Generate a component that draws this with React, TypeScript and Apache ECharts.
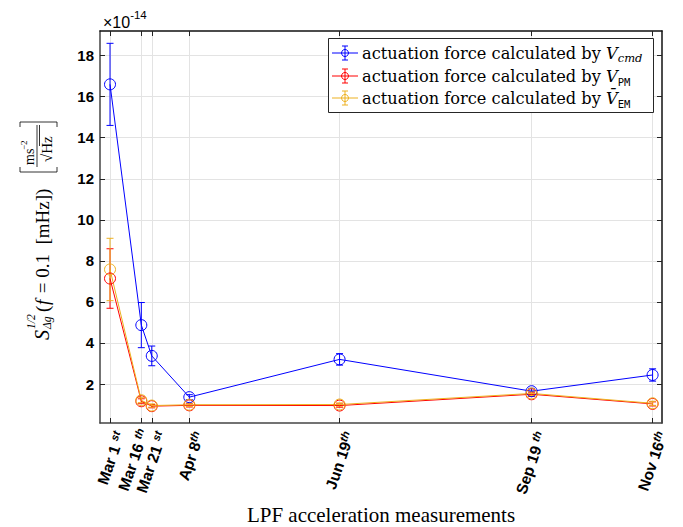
import React, { useEffect, useRef } from "react";
import * as echarts from "echarts";

const dates = ["2016-03-01", "2016-03-16", "2016-03-21", "2016-04-08", "2016-06-19", "2016-09-19", "2016-11-16"];
const tickMain = ["Mar 1 ", "Mar 16 ", "Mar 21 ", "Apr 8", "Jun 19", "Sep 19 ", "Nov 16"];
const tickSup = ["st", "th", "st", "th", "th", "th", "th"];

const cmdValues = [16.6, 4.87, 3.37, 1.36, 3.2, 1.65, 2.44];
const cmdErr = [2.0, 1.1, 0.48, 0.12, 0.28, 0.14, 0.3];
const pmValues = [7.14, 1.16, 0.92, 0.96, 0.95, 1.5, 1.03];
const pmErr = [1.45, 0.12, 0.08, 0.08, 0.08, 0.1, 0.1];
const emValues = [7.58, 1.21, 0.95, 0.99, 1.0, 1.54, 1.06];
const emErr = [1.52, 0.12, 0.08, 0.08, 0.08, 0.1, 0.1];

const yTicks = [2, 4, 6, 8, 10, 12, 14, 16, 18];

const BLUE = "#0000ff";
const RED = "#ff0000";
const ORANGE = "#EDB120";

const DAY = 86400000;
const t0 = Date.UTC(2016, 2, 1);
const days = dates.map((d) => (Date.parse(d + "T00:00:00Z") - t0) / DAY);

// per-label perpendicular nudge (px) of rotated tick labels (style only)
const labelNudge = [10, 2, 10, 10, 10, 10, 10];

function lineSeries(name: string, vals: number[], color: string) {
  return {
    name,
    type: "line",
    data: days.map((d, i) => [d, vals[i]]),
    symbol: "circle",
    symbolSize: 11,
    lineStyle: { color, width: 1 },
    itemStyle: { color: "rgba(0,0,0,0)", borderColor: color, borderWidth: 1 },
    emphasis: { disabled: true },
  };
}

function errSeries(vals: number[], err: number[], color: string) {
  return {
    type: "custom",
    data: days.map((d, i) => [d, vals[i] - err[i], vals[i] + err[i]]),
    encode: { x: 0, y: [1, 2] },
    renderItem: (params: any, api: any) => {
      const x = api.value(0);
      const lo = api.coord([x, api.value(1)]);
      const hi = api.coord([x, api.value(2)]);
      const c = 3.5;
      const style = { stroke: color, lineWidth: 1 };
      return {
        type: "group",
        children: [
          { type: "line", shape: { x1: lo[0], y1: lo[1], x2: hi[0], y2: hi[1] }, style },
          { type: "line", shape: { x1: lo[0] - c, y1: lo[1], x2: lo[0] + c, y2: lo[1] }, style },
          { type: "line", shape: { x1: hi[0] - c, y1: hi[1], x2: hi[0] + c, y2: hi[1] }, style },
        ],
      };
    },
    z: 3,
  };
}

const LF = "DejaVu Serif";
const legendRich: any = {
  t: { fontSize: 16.2, fontFamily: LF, lineHeight: 22, verticalAlign: "middle" },
  v: { fontSize: 16.2, fontFamily: LF, fontStyle: "italic", lineHeight: 22, verticalAlign: "middle" },
  si: { fontSize: 11.5, fontFamily: LF, fontStyle: "italic", lineHeight: 13, verticalAlign: "bottom" },
  sm: { fontSize: 10.5, fontFamily: "DejaVu Sans Mono", lineHeight: 11, verticalAlign: "bottom" },
};

function legendEntry(y: number, color: string, rich: string) {
  const s = { stroke: color, lineWidth: 1 };
  return [
    { type: "line", shape: { x1: 332, y1: y, x2: 358, y2: y }, style: s, z: 11 },
    { type: "line", shape: { x1: 345, y1: y - 7, x2: 345, y2: y + 7 }, style: s, z: 11 },
    { type: "line", shape: { x1: 342, y1: y - 7, x2: 348, y2: y - 7 }, style: s, z: 11 },
    { type: "line", shape: { x1: 342, y1: y + 7, x2: 348, y2: y + 7 }, style: s, z: 11 },
    { type: "circle", shape: { cx: 345, cy: y, r: 3.5 }, style: { fill: "none", stroke: color, lineWidth: 1 }, z: 11 },
    {
      type: "text",
      x: 362,
      y,
      z: 11,
      style: { text: rich, textVerticalAlign: "middle", textAlign: "left", fill: "#000", rich: legendRich },
    },
  ];
}

const SF = "Liberation Serif";
function rText(x: number, y: number, text: string, size: number, italic = false, family = SF, align = "left") {
  return {
    type: "text",
    x,
    y,
    rotation: Math.PI / 2,
    style: {
      text,
      fill: "#000",
      fontSize: size,
      fontFamily: family,
      fontStyle: italic ? "italic" : "normal",
      textAlign: align,
      textVerticalAlign: "middle",
    },
  };
}

const blk = { stroke: "#000", lineWidth: 0.8 };

export default function App() {
  const ref = useRef<HTMLDivElement>(null);
  useEffect(() => {
    if (!ref.current) return;
    const chart = echarts.init(ref.current, null, { renderer: "svg" });
    const xMin = -4.8;
    const xMax = 264.5;
    const labelRich: any = {
      m: { fontSize: 15.5, fontWeight: "bold", fontFamily: "Liberation Sans", color: "#000", lineHeight: 17, verticalAlign: "bottom" },
      s: { fontSize: 11, fontWeight: "bold", fontStyle: "italic", fontFamily: "Liberation Sans", color: "#000", lineHeight: 10, verticalAlign: "top" },
    };
    labelNudge.forEach((n, i) => {
      labelRich["g" + i] = { fontSize: 1, lineHeight: Math.max(1, Math.abs(n) * 2), color: "rgba(0,0,0,0)" };
    });
    const option: any = {
      animation: false,
      backgroundColor: "#fff",
      grid: { left: 100, right: 21, top: 31, bottom: 104, containLabel: false },
      xAxis: [
        {
          type: "value",
          min: xMin,
          max: xMax,
          position: "bottom",
          axisLine: { show: true, onZero: false, lineStyle: { color: "#444", width: 1.5 } },
          axisTick: { show: true, inside: true, length: 5, customValues: days, lineStyle: { color: "#222", width: 1 } },
          axisLabel: {
            show: true,
            customValues: days,
            rotate: 71,
            margin: 6,
            formatter: (v: number) => {
              const i = days.findIndex((d) => Math.abs(d - v) < 1e-6);
              if (i < 0) return "";
              const line = `{m|${tickMain[i]}}{s|${tickSup[i]}}`;
              return labelNudge[i] >= 0 ? `{g${i}| }\n${line}` : `${line}\n{g${i}| }`;
            },
            rich: labelRich,
          },
          splitLine: { show: true, lineStyle: { color: "#e3e3e3", width: 1 } },
        },
        {
          type: "value",
          min: xMin,
          max: xMax,
          position: "top",
          axisLine: { show: true, onZero: false, lineStyle: { color: "#111", width: 1.5 } },
          axisTick: { show: true, inside: true, length: 5, customValues: days, lineStyle: { color: "#222", width: 1 } },
          axisLabel: { show: false },
          splitLine: { show: false },
        },
      ],
      yAxis: [
        {
          type: "value",
          min: 0.1,
          max: 19.2,
          position: "left",
          axisLine: { show: true, onZero: false, lineStyle: { color: "#444", width: 1.5 } },
          axisTick: { show: true, inside: true, length: 5, customValues: yTicks, lineStyle: { color: "#222", width: 1 } },
          axisLabel: {
            show: true,
            customValues: yTicks,
            margin: 6,
            fontSize: 15,
            fontWeight: "bold",
            fontFamily: "Liberation Sans",
            color: "#000",
          },
          splitLine: { show: true, lineStyle: { color: "#e3e3e3", width: 1 } },
        },
        {
          type: "value",
          min: 0.1,
          max: 19.2,
          position: "right",
          axisLine: { show: true, onZero: false, lineStyle: { color: "#111", width: 1.5 } },
          axisTick: { show: true, inside: true, length: 5, customValues: yTicks, lineStyle: { color: "#222", width: 1 } },
          axisLabel: { show: false },
          splitLine: { show: false },
        },
      ],
      series: [
        lineSeries("cmd", cmdValues, BLUE),
        errSeries(cmdValues, cmdErr, BLUE),
        lineSeries("pm", pmValues, RED),
        errSeries(pmValues, pmErr, RED),
        lineSeries("em", emValues, ORANGE),
        errSeries(emValues, emErr, ORANGE),
      ],
      graphic: [
        {
          type: "text",
          left: 103,
          top: 9,
          style: {
            text: "{a|×10}{b|-14}",
            rich: {
              a: { fontSize: 16, fontFamily: "Liberation Sans", fill: "#000", lineHeight: 21, verticalAlign: "bottom" },
              b: { fontSize: 11.5, fontFamily: "Liberation Sans", fill: "#000", lineHeight: 12, verticalAlign: "top" },
            },
          },
        },
        {
          type: "text",
          x: 381,
          y: 515,
          style: {
            text: "LPF acceleration measurements",
            font: '21px "Liberation Serif"',
            fill: "#000",
            textAlign: "center",
            textVerticalAlign: "middle",
          },
        },
        // y-axis title, pieces rotated 90°
        rText(42, 340, "S", 20, true),
        rText(31, 329, "1/2", 11.5, true),
        rText(47, 329, "Δg", 11.5, true),
        rText(42, 312, "(", 19),
        rText(42, 305, "f", 19, true),
        rText(42, 298, " = 0.1  [mHz])", 19),
        rText(29, 165, "ms", 14, false, SF, "left"),
        rText(24, 150, "−2", 9, false, SF, "left"),
        { type: "line", shape: { x1: 37, y1: 125, x2: 37, y2: 167 }, style: blk },
        rText(47, 162, "√Hz", 15, false, SF, "left"),
        { type: "line", shape: { x1: 39.5, y1: 146, x2: 39.5, y2: 125 }, style: blk },
        { type: "line", shape: { x1: 20, y1: 122, x2: 57, y2: 122 }, style: blk },
        { type: "line", shape: { x1: 20, y1: 122, x2: 20, y2: 127 }, style: blk },
        { type: "line", shape: { x1: 57, y1: 122, x2: 57, y2: 127 }, style: blk },
        { type: "line", shape: { x1: 20, y1: 172, x2: 57, y2: 172 }, style: blk },
        { type: "line", shape: { x1: 20, y1: 172, x2: 20, y2: 167 }, style: blk },
        { type: "line", shape: { x1: 57, y1: 172, x2: 57, y2: 167 }, style: blk },
        {
          type: "rect",
          z: 10,
          shape: { x: 328.5, y: 38.5, width: 325, height: 74 },
          style: { fill: "#fff", stroke: "#262626", lineWidth: 1 },
        },
        ...legendEntry(53, BLUE, "{t|actuation force calculated by }{v|V}{si|cmd}"),
        ...legendEntry(76, RED, "{t|actuation force calculated by }{v|V}{sm|PM}"),
        ...legendEntry(98, ORANGE, "{t|actuation force calculated by }{v|V\u0304}{sm|EM}"),
      ],
    };
    chart.setOption(option);
    return () => chart.dispose();
  }, []);
  return <div ref={ref} style={{ position: "fixed", left: 0, top: 0, width: 683, height: 527 }} />;
}
